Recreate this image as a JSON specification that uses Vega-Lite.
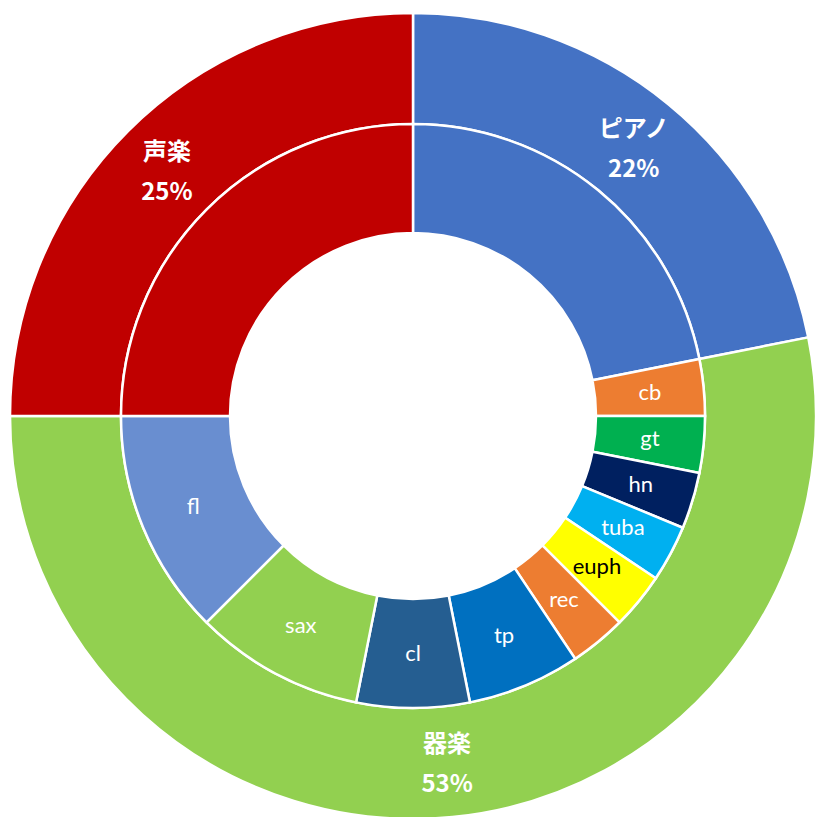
{
  "$schema": "https://vega.github.io/schema/vega-lite/v6.json",
  "autosize": {"type": "none"},
  "padding": 0,
  "width": 826,
  "height": 832,
  "background": "white",
  "config": {"view": {"stroke": null}},
  "datasets": {
    "outer": [
      {"name": "ピアノ", "value": 7, "ord": 1},
      {"name": "器楽", "value": 17, "ord": 2},
      {"name": "声楽", "value": 8, "ord": 3}
    ],
    "inner": [
      {"name": "ピアノ", "value": 7, "ord": 1},
      {"name": "cb", "value": 1, "ord": 2},
      {"name": "gt", "value": 1, "ord": 3},
      {"name": "hn", "value": 1, "ord": 4},
      {"name": "tuba", "value": 1, "ord": 5},
      {"name": "euph", "value": 1, "ord": 6},
      {"name": "rec", "value": 1, "ord": 7},
      {"name": "tp", "value": 2, "ord": 8},
      {"name": "cl", "value": 2, "ord": 9},
      {"name": "sax", "value": 3, "ord": 10},
      {"name": "fl", "value": 4, "ord": 11},
      {"name": "声楽", "value": 8, "ord": 12}
    ]
  },
  "layer": [
    {
      "data": {"name": "outer"},
      "mark": {"type": "arc", "radius": 403, "radius2": 292, "stroke": "white", "strokeWidth": 2.5},
      "encoding": {
        "theta": {"field": "value", "type": "quantitative", "stack": true},
        "order": {"field": "ord", "type": "quantitative"},
        "color": {
          "field": "name", "type": "nominal", "legend": null,
          "scale": {
            "domain": ["ピアノ", "器楽", "声楽", "cb", "gt", "hn", "tuba", "euph", "rec", "tp", "cl", "sax", "fl"],
            "range": ["#4472C4", "#92D050", "#C00000", "#ED7D31", "#00B050", "#002060", "#00B0F0", "#FFFF00", "#ED7D31", "#0070C0", "#255E91", "#92D050", "#698ED0"]
          }
        }
      }
    },
    {
      "data": {"name": "inner"},
      "mark": {"type": "arc", "radius": 292, "radius2": 183, "stroke": "white", "strokeWidth": 2.5},
      "encoding": {
        "theta": {"field": "value", "type": "quantitative", "stack": true},
        "order": {"field": "ord", "type": "quantitative"},
        "color": {"field": "name", "type": "nominal", "legend": null}
      }
    },
    {
      "data": {"name": "outer"},
      "transform": [
        {"joinaggregate": [{"op": "sum", "field": "value", "as": "total"}]},
        {"calculate": "datum.name + '\\n' + format(datum.value / datum.total, '.0%')", "as": "label"}
      ],
      "mark": {"type": "text", "radius": 348, "dy": -17, "font": "Noto Sans CJK JP", "fontWeight": "bold", "fontSize": 24, "lineHeight": 40, "lineBreak": "\n", "color": "white", "align": "center", "baseline": "middle"},
      "encoding": {
        "theta": {"field": "value", "type": "quantitative", "stack": true},
        "order": {"field": "ord", "type": "quantitative"},
        "text": {"field": "label", "type": "nominal"}
      }
    },
    {
      "data": {"name": "inner"},
      "transform": [
        {"calculate": "datum.name === 'ピアノ' || datum.name === '声楽' ? '' : datum.name", "as": "label"}
      ],
      "mark": {"type": "text", "radius": 238, "font": "Lato", "fontSize": 22, "align": "center", "baseline": "middle"},
      "encoding": {
        "theta": {"field": "value", "type": "quantitative", "stack": true},
        "order": {"field": "ord", "type": "quantitative"},
        "text": {"field": "label", "type": "nominal"},
        "color": {"condition": {"test": "datum.name === 'euph'", "value": "black"}, "value": "white"}
      }
    }
  ]
}
